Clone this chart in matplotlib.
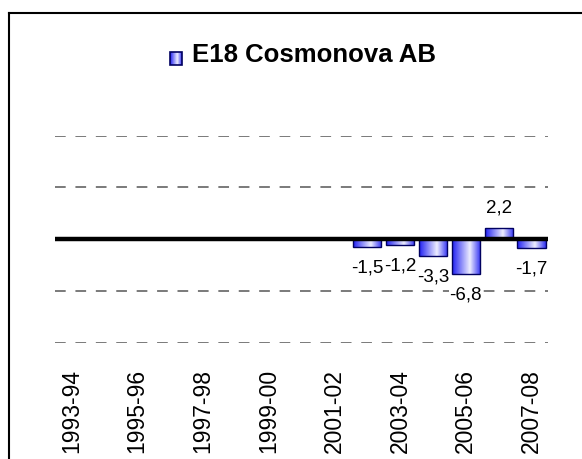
import matplotlib
matplotlib.use("Agg")
import matplotlib.pyplot as plt
import numpy as np
from matplotlib.colors import LinearSegmentedColormap
from matplotlib.patches import Rectangle
from matplotlib.lines import Line2D

categories = ["1993-94", "1994-95", "1995-96", "1996-97", "1997-98", "1998-99",
              "1999-00", "2000-01", "2001-02", "2002-03", "2003-04", "2004-05",
              "2005-06", "2006-07", "2007-08"]
values = [None, None, None, None, None, None, None, None, None,
          -1.5, -1.2, -3.3, -6.8, 2.2, -1.7]
tick_labels = ["1993-94", "1995-96", "1997-98", "1999-00", "2001-02",
               "2003-04", "2005-06", "2007-08"]
title = "E18 Cosmonova AB"
y_ticks = [-20, -10, 0, 10, 20]

plt.rcParams['font.family'] = ['Liberation Sans', 'DejaVu Sans']

W, H = 582, 459
fig = plt.figure(figsize=(W / 100, H / 100), dpi=100)
ax = fig.add_axes([55 / W, 1 - 342.7 / H, (548 - 55) / W, (342.7 - 135.7) / H])

cmap = LinearSegmentedColormap.from_list(
    "bargrad", [(0.0, (0.12, 0.12, 0.95)), (0.62, (0.93, 0.93, 1.0)), (1.0, (0.18, 0.18, 0.95))])
grad = np.linspace(0, 1, 256).reshape(1, -1)

x = np.arange(len(categories))
width = 0.86
for i, v in enumerate(values):
    if v is None:
        continue
    bars = ax.bar(x[i], v, width=width, facecolor='none', edgecolor='#000060',
                  linewidth=1.0, zorder=3)
    p = bars.patches[0]
    x0, y0 = p.get_x(), p.get_y()
    w, h = p.get_width(), p.get_height()
    im = ax.imshow(grad, cmap=cmap, aspect='auto',
                   extent=[x0, x0 + w, min(y0, y0 + h), max(y0, y0 + h)],
                   zorder=2, interpolation='bilinear')
    im.set_clip_path(p)
    lab = f"{v:.1f}".replace(".", ",")
    bb = dict(boxstyle='square,pad=0.05', facecolor='white', edgecolor='none')
    if v >= 0:
        ax.annotate(lab, (x[i], v), xytext=(0, 8), textcoords='offset points',
                    ha='center', va='bottom', fontsize=13.5, zorder=5, bbox=bb)
    else:
        ax.annotate(lab, (x[i], v), xytext=(0, -9), textcoords='offset points',
                    ha='center', va='top', fontsize=13.5, zorder=5, bbox=bb)

ax.set_xlim(-0.5, len(categories) - 0.5)
ax.set_ylim(-20, 20)
for yv in y_ticks:
    if yv == 0:
        continue
    ax.axhline(yv, color='#7a7a7a', linewidth=1.4, linestyle=(0, (5.5, 5)), zorder=1)
ax.axhline(0, color='black', linewidth=3.2, zorder=4)

for s in ax.spines.values():
    s.set_visible(False)
ax.set_yticks([])
ax.set_xticks([categories.index(t) for t in tick_labels])
ax.set_xticklabels(tick_labels, rotation=90, fontsize=16.5, va='top', ha='center')
ax.tick_params(axis='x', length=0, pad=19)

# title with legend marker
fig.text(314 / W, 1 - 55 / H, title, ha='center', va='center',
         fontsize=18.5, fontweight='bold')
mx0, my0, mw, mh = 170, 52, 12, 13
mark_ax = fig.add_axes([mx0 / W, 1 - (my0 + mh) / H, mw / W, mh / H])
mark_ax.imshow(grad, cmap=cmap, aspect='auto', extent=[0, 1, 0, 1], interpolation='bilinear')
mark_ax.add_patch(Rectangle((0, 0), 1, 1, fill=False, edgecolor='#000060', linewidth=1.2,
                            transform=mark_ax.transAxes, clip_on=False))
mark_ax.set_xlim(0, 1)
mark_ax.set_ylim(0, 1)
mark_ax.axis('off')

# outer frame (left and top edges visible)
fig.add_artist(Line2D([9 / W, 9 / W], [0, 1 - 13 / H], color='black', linewidth=1.5,
                      transform=fig.transFigure))
fig.add_artist(Line2D([9 / W, 1], [1 - 13 / H, 1 - 13 / H], color='black', linewidth=1.5,
                      transform=fig.transFigure))

fig.savefig("out.png", dpi=100, facecolor='white')
